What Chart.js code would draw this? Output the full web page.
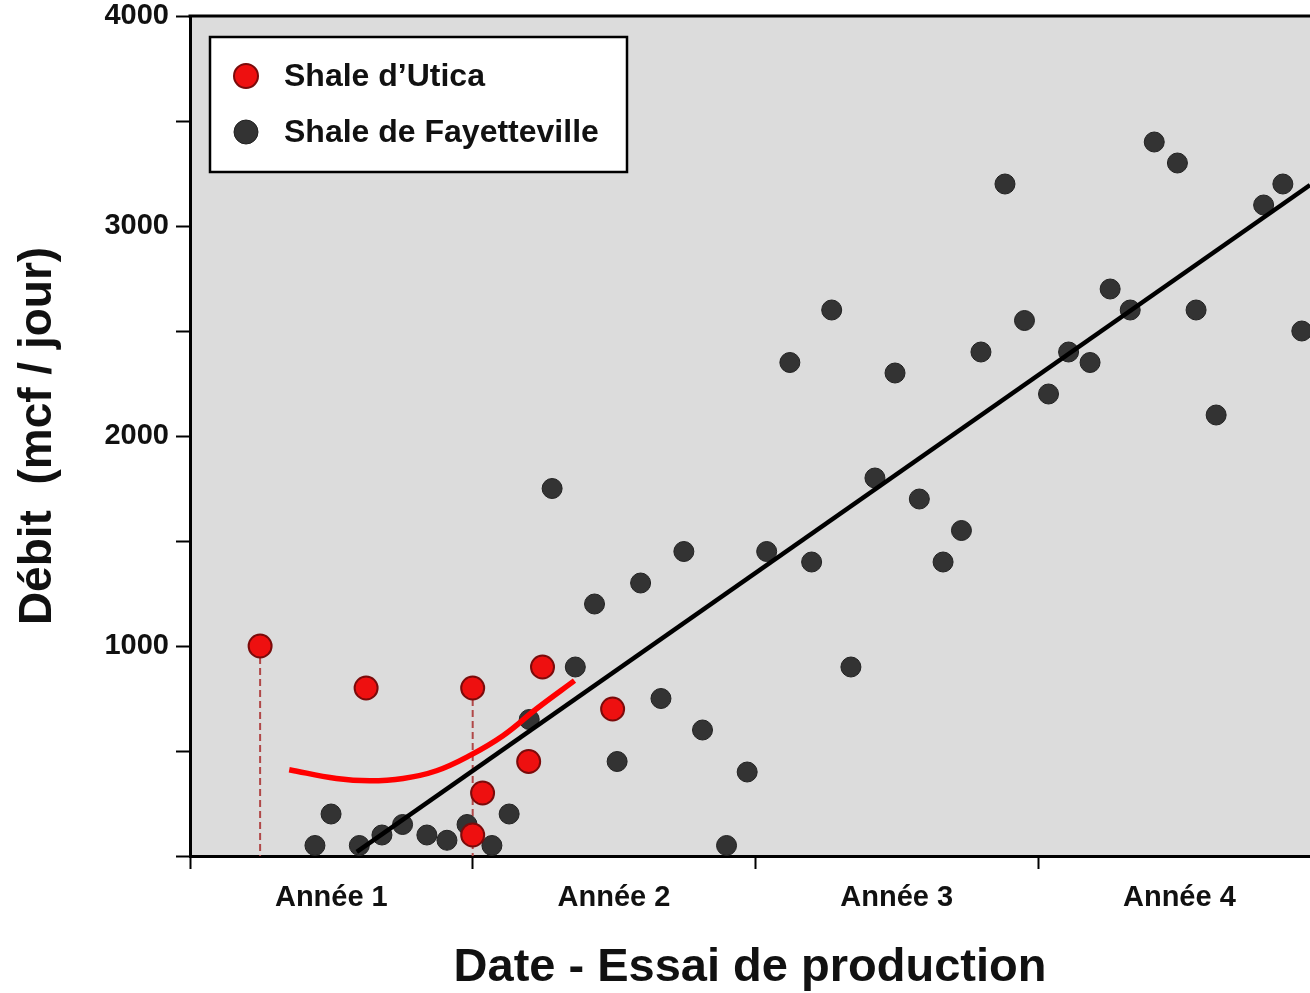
<!DOCTYPE html>
<html><head><meta charset="utf-8">
<script src="https://cdn.jsdelivr.net/npm/chart.js@4.4.1/dist/chart.umd.min.js"></script>
<style>html,body{margin:0;padding:0;background:#fff;overflow:hidden}#wrap{width:1310px;height:993px;position:relative}</style>
</head><body><div id="wrap"><canvas id="c" width="1310" height="993"></canvas></div>
<script>
// ---- data (x in years since start, y in mcf/jour) ----
const seriesNames = ['Shale d\u2019Utica', 'Shale de Fayetteville'];
const uticaX = [0.248, 0.623, 1.000, 1.000, 1.035, 1.198, 1.247, 1.495];
const uticaY = [1000, 800, 800, 100, 300, 450, 900, 700];
const fayX = [0.442, 0.499, 0.599, 0.679, 0.752, 0.838, 0.909, 0.980, 1.068, 1.129, 1.200, 1.281, 1.363, 1.431, 1.511, 1.594, 1.666, 1.747, 1.813, 1.898, 1.971, 2.040, 2.122, 2.199, 2.270, 2.338, 2.423, 2.494, 2.580, 2.664, 2.729, 2.798, 2.883, 2.952, 3.037, 3.108, 3.184, 3.255, 3.326, 3.411, 3.493, 3.559, 3.630, 3.798, 3.866, 3.933];
const fayY = [50, 200, 50, 100, 150, 100, 75, 150, 50, 200, 650, 1750, 900, 1200, 450, 1300, 750, 1450, 600, 50, 400, 1450, 2350, 1400, 2600, 900, 1800, 2300, 1700, 1400, 1550, 2400, 3200, 2550, 2200, 2400, 2350, 2700, 2600, 3400, 3300, 2600, 2100, 3100, 3200, 2500];
const trendX = [0.59, 3.962];
const trendY = [20, 3195];
const curveX = [0.351, 0.518, 0.636, 0.754, 0.872, 0.989, 1.107, 1.225, 1.360];
const curveY = [411, 369, 358, 369, 406, 478, 573, 700, 835];
const dropIndices = [0, 2];
const xTickLabels = ['Ann\u00e9e 1', 'Ann\u00e9e 2', 'Ann\u00e9e 3', 'Ann\u00e9e 4'];
const yLabelStep = 1000;
const yTickStep = 500;
const yMin = 0, yMax = 4000;
const xMin = 0, xMax = 3.962;
const xTitle = 'Date - Essai de production';
const yTitle = 'D\u00e9bit  (mcf / jour)';

const FONT = '"Liberation Sans", Arial, Helvetica, sans-serif';
const pts = (xs, ys) => xs.map((x, i) => ({x: x, y: ys[i]}));

const datasets = [
  { label: seriesNames[0], legend: true, data: pts(uticaX, uticaY), showLine: false,
    pointRadius: 11.5, pointBackgroundColor: '#ee1010', pointBorderColor: '#7a0b0b', pointBorderWidth: 2, clip: false },
  { label: 'trend', data: pts(trendX, trendY), showLine: true, borderColor: '#000', borderWidth: 4.5, pointRadius: 0 },
  { label: 'curve', data: pts(curveX, curveY), showLine: true, borderColor: '#ff0000', borderWidth: 5.5, pointRadius: 0, tension: 0.4, borderCapStyle: 'butt' },
  { label: seriesNames[1], legend: true, data: pts(fayX, fayY), showLine: false,
    pointRadius: 10, pointBackgroundColor: '#333333', pointBorderColor: '#222222', pointBorderWidth: 1, clip: false }
];
dropIndices.forEach(i => {
  datasets.push({ label: 'drop', data: [{x: uticaX[i], y: uticaY[i]}, {x: uticaX[i], y: 0}], showLine: true,
    borderColor: '#b04848', borderWidth: 2, borderDash: [7, 4], pointRadius: 0 });
});

const xTickValues = [];
xTickLabels.forEach((_, i) => { xTickValues.push(i, i + 0.5); });
const isInt = v => Math.abs(v - Math.round(v)) < 1e-6;

const bgPlugin = {
  id: 'bg',
  beforeDraw(chart) {
    const {ctx, chartArea: a} = chart;
    ctx.save();
    ctx.fillStyle = '#fff';
    ctx.fillRect(0, 0, chart.width, chart.height);
    ctx.fillStyle = '#dcdcdc';
    ctx.fillRect(a.left, a.top, a.right - a.left, a.bottom - a.top);
    ctx.restore();
  },
  afterDraw(chart) {
    const {ctx, chartArea: a} = chart;
    ctx.save();
    ctx.strokeStyle = '#000';
    ctx.lineWidth = 3;
    ctx.beginPath();
    ctx.moveTo(a.left - 1.5, a.top);
    ctx.lineTo(a.right, a.top);
    ctx.stroke();
    // legend box
    const bx = a.left + 20, by = a.top + 21, bw = 417, bh = 135;
    ctx.fillStyle = '#fff';
    ctx.fillRect(bx, by, bw, bh);
    ctx.lineWidth = 2.5;
    ctx.strokeRect(bx, by, bw, bh);
    const items = chart.data.datasets.filter(d => d.legend);
    items.forEach((d, i) => {
      const cy = by + 39 + i * 56;
      ctx.beginPath();
      ctx.arc(bx + 36, cy, 12, 0, Math.PI * 2);
      ctx.fillStyle = d.pointBackgroundColor;
      ctx.fill();
      ctx.lineWidth = d.pointBorderWidth;
      ctx.strokeStyle = d.pointBorderColor;
      ctx.stroke();
      ctx.fillStyle = '#111';
      ctx.font = 'bold 32px ' + FONT;
      ctx.textBaseline = 'middle';
      ctx.textAlign = 'left';
      ctx.fillText(d.label, bx + 74, cy + 1);
    });
    ctx.restore();
  }
};

new Chart(document.getElementById('c'), {
  type: 'scatter',
  data: { datasets: datasets },
  options: {
    responsive: false,
    animation: false,
    devicePixelRatio: 1,
    layout: { autoPadding: false, padding: { top: 16, left: 0, right: 0, bottom: 0 } },
    plugins: { legend: { display: false }, tooltip: { enabled: false } },
    scales: {
      x: {
        type: 'linear', min: xMin, max: xMax,
        afterBuildTicks: s => { s.ticks = xTickValues.map(v => ({value: v})); },
        afterFit: s => { s.height = 137; s.paddingLeft = 0; s.paddingRight = 0; },
        border: { display: true, color: '#000', width: 3 },
        grid: { drawOnChartArea: false, drawTicks: true, tickLength: 13, tickWidth: 2,
          tickColor: c => (c.tick && isInt(c.tick.value)) ? '#000' : 'rgba(0,0,0,0)' },
        ticks: { autoSkip: false, maxRotation: 0, padding: 14, color: '#111',
          font: { family: FONT, size: 29, weight: 'bold', lineHeight: 1 },
          callback: v => { const i = Math.floor(v); return Math.abs(v - i - 0.5) < 1e-6 ? xTickLabels[i] : ''; } },
        title: { display: true, text: xTitle, color: '#111', padding: { top: 0, bottom: 1 },
          font: { family: FONT, size: 47, weight: 'bold', lineHeight: 1 } }
      },
      y: {
        min: yMin, max: yMax,
        afterFit: s => { s.width = 190; s.paddingTop = 0; s.paddingBottom = 0; },
        border: { display: true, color: '#000', width: 3 },
        grid: { drawOnChartArea: false, drawTicks: true, tickLength: 14, tickWidth: 2, tickColor: '#000' },
        ticks: { stepSize: yTickStep, padding: 7, color: '#111',
          font: { family: FONT, size: 29, weight: 'bold', lineHeight: 1 },
          callback: v => (v > yMin && v % yLabelStep === 0 ? String(v) : '') },
        title: { display: true, text: yTitle, color: '#111', padding: { top: 15, bottom: 0 },
          font: { family: FONT, size: 46, weight: 'bold', lineHeight: 1 } }
      }
    }
  },
  plugins: [bgPlugin]
});
</script></body></html>
